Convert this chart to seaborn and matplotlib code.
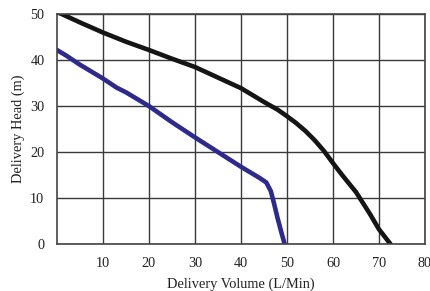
import pandas as pd
import seaborn as sns
import matplotlib.pyplot as plt

# Curve values
volume_a = [0, 5, 10, 15, 20, 25, 30, 35, 40, 45, 48, 50, 52, 54, 56, 58, 60, 62, 65, 68, 70, 72.5]
head_a = [50.5, 48.2, 46.0, 44.0, 42.2, 40.3, 38.5, 36.2, 33.9, 30.9, 29.2, 27.8, 26.3, 24.6, 22.6, 20.3, 17.6, 15.0, 11.3, 6.6, 3.2, 0]

volume_b = [0, 2, 5, 10, 13, 15, 20, 25, 30, 35, 40, 44, 45.5, 46.5, 47.2, 48, 48.8, 49.5]
head_b = [42.2, 41.0, 39.0, 36.0, 34.0, 33.0, 30.0, 26.5, 23.2, 20.0, 16.8, 14.4, 13.4, 11.5, 8.8, 5.5, 2.5, 0]

x_ticks = [10, 20, 30, 40, 50, 60, 70, 80]
y_ticks = [0, 10, 20, 30, 40, 50]

df_a = pd.DataFrame({"volume": volume_a, "head": head_a})
df_b = pd.DataFrame({"volume": volume_b, "head": head_b})

sns.set_style("white")
plt.rcParams['font.family'] = ['Liberation Serif', 'DejaVu Serif']

fig = plt.figure(figsize=(4.31, 2.91), dpi=100)
ax = fig.add_axes([0.132, 0.1615, 0.854, 0.79])

sns.lineplot(data=df_a, x="volume", y="head", color="#151515", linewidth=3.3, ax=ax, sort=False)
sns.lineplot(data=df_b, x="volume", y="head", color="#2e2a8c", linewidth=3.3, ax=ax, sort=False)

ax.set_xlim(0, 80)
ax.set_ylim(0, 50)
ax.set_xticks(x_ticks)
ax.set_yticks(y_ticks)
ax.grid(True, color="#3a3a3a", linewidth=1.0)
ax.set_axisbelow(True)
for side in ax.spines.values():
    side.set_color("#444444")
    side.set_linewidth(1.2)
ax.tick_params(axis="both", length=0, labelsize=10.3, colors="#222222", pad=9)
ax.set_xlabel("Delivery Volume (L/Min)", fontsize=10.4, color="#222222", labelpad=6)
ax.set_ylabel("Delivery Head (m)", fontsize=10.4, color="#222222", labelpad=4)

fig.savefig("out.png", dpi=100)
